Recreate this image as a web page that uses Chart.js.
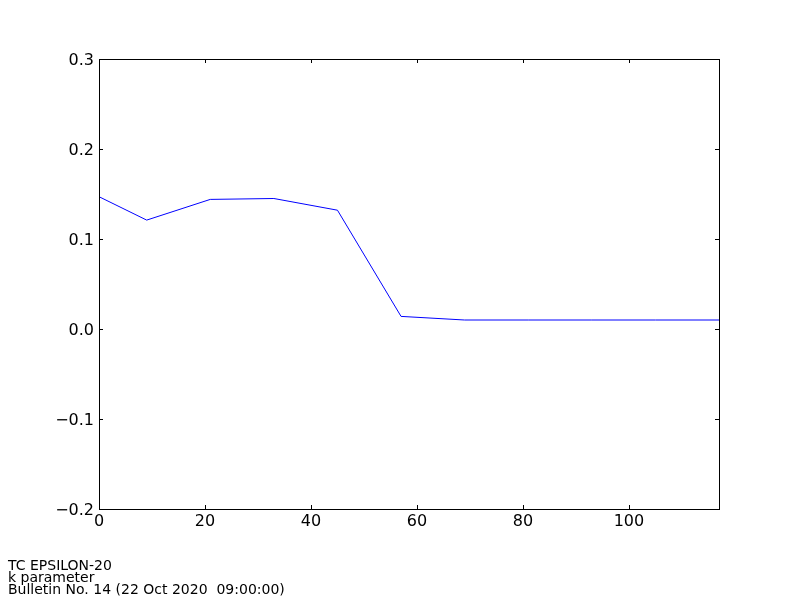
<!DOCTYPE html>
<html>
<head>
<meta charset="utf-8">
<script src="https://cdn.jsdelivr.net/npm/chart.js@4/dist/chart.umd.min.js"></script>
<style>
  body { margin: 0; background: #fff; }
  #wrap { position: relative; width: 800px; height: 600px; }
  #footer { position: absolute; left: 8px; top: 559px; font: 14px "DejaVu Sans", sans-serif; line-height: 12px; color: #000; }
</style>
</head>
<body>
<div id="wrap">
  <canvas id="kChart" width="800" height="600"></canvas>
  <div id="footer">TC EPSILON-20<br>k parameter<br>Bulletin No. 14 (22 Oct 2020&nbsp; 09:00:00)</div>
</div>
<script>
const hours = [0, 9, 21, 33, 45, 57, 69, 81, 93, 105, 117];
const kValues = [0.147, 0.121, 0.144, 0.145, 0.132, 0.014, 0.010, 0.010, 0.010, 0.010, 0.010];
const xTicks = [0, 20, 40, 60, 80, 100];
const yTicks = [-0.2, -0.1, 0.0, 0.1, 0.2, 0.3];

// matplotlib-like frame and inward ticks on all four sides
const frameTicks = {
  id: 'frameTicks',
  afterDraw(chart) {
    const { ctx, chartArea: a, scales } = chart;
    ctx.save();
    ctx.strokeStyle = '#000';
    ctx.lineWidth = 1;
    ctx.strokeRect(a.left + 0.5, a.top + 0.5, a.right - a.left, a.bottom - a.top);
    ctx.beginPath();
    xTicks.forEach(v => {
      const px = Math.round(scales.x.getPixelForValue(v)) + 0.5;
      ctx.moveTo(px, a.bottom); ctx.lineTo(px, a.bottom - 4);
      ctx.moveTo(px, a.top); ctx.lineTo(px, a.top + 4);
    });
    yTicks.forEach(v => {
      const py = Math.round(scales.y.getPixelForValue(v)) + 0.5;
      ctx.moveTo(a.left, py); ctx.lineTo(a.left + 4, py);
      ctx.moveTo(a.right, py); ctx.lineTo(a.right - 4, py);
    });
    ctx.stroke();
    ctx.restore();
  }
};

new Chart(document.getElementById('kChart'), {
  type: 'line',
  data: {
    datasets: [{
      data: hours.map((h, i) => ({ x: h, y: kValues[i] })),
      borderColor: '#0000ff',
      borderWidth: 1,
      pointRadius: 0,
      tension: 0
    }]
  },
  options: {
    responsive: false,
    animation: false,
    layout: { padding: { top: 59, right: 81, left: 0, bottom: 0 } },
    plugins: { legend: { display: false }, tooltip: { enabled: false } },
    scales: {
      x: {
        type: 'linear', min: 0, max: 117,
        afterBuildTicks: s => { s.ticks = xTicks.map(v => ({ value: v })); },
        afterFit: s => { s.height = 91; },
        grid: { display: false, drawTicks: false },
        border: { display: false },
        ticks: { color: '#000', font: { family: 'DejaVu Sans', size: 16 }, padding: 3, maxRotation: 0 }
      },
      y: {
        min: -0.2, max: 0.3,
        afterBuildTicks: s => { s.ticks = yTicks.map(v => ({ value: v })); },
        afterFit: s => { s.width = 99; },
        grid: { display: false, drawTicks: false },
        border: { display: false },
        ticks: {
          color: '#000', font: { family: 'DejaVu Sans', size: 16 }, padding: 5, labelOffset: 2,
          callback: v => v.toFixed(1).replace('-', '\u2212')
        }
      }
    }
  },
  plugins: [frameTicks]
});
</script>
</body>
</html>
